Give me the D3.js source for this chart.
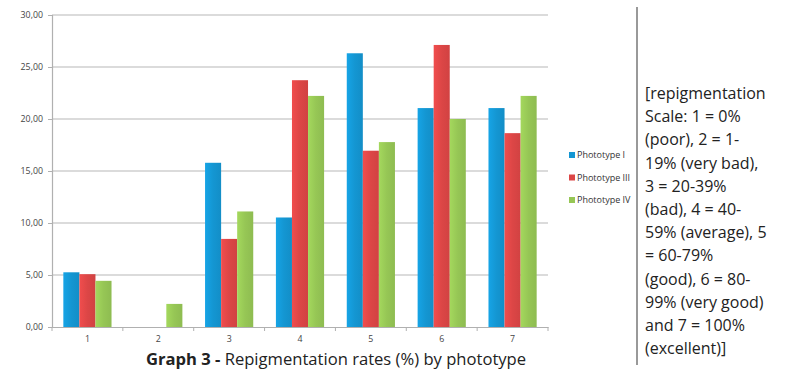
<!DOCTYPE html>
<html><head><meta charset="utf-8">
<script src="https://cdn.jsdelivr.net/npm/d3@7"></script>
<style>body{margin:0;background:#fff;} svg{display:block;}</style>
</head><body>
<svg id="c" width="788" height="370"></svg>
<script>
const categories = ["1","2","3","4","5","6","7"];
const seriesNames = ["Phototype I","Phototype III","Phototype IV"];
const phototypeI   = [5.26, 0, 15.79, 10.53, 26.32, 21.05, 21.05];
const phototypeIII = [5.08, 0, 8.47, 23.73, 16.95, 27.12, 18.64];
const phototypeIV  = [4.44, 2.22, 11.11, 22.22, 17.78, 20.00, 22.22];
const yTicks = [0,5,10,15,20,25,30];
const colors = ["#1496d2","#dc4646","#96c655"];
const noteLines = ["[repigmentation","Scale: 1 = 0%","(poor), 2 = 1-","19% (very bad),","3 = 20-39%","(bad), 4 = 40-","59% (average), 5","= 60-79%","(good), 6 = 80-","99% (very good)","and 7 = 100%","(excellent)]"];

const series = [phototypeI, phototypeIII, phototypeIV];
const svg = d3.select("#c");
const m = {l:52, r:548, t:15, b:327};
const x = d3.scaleBand().domain(categories).range([m.l, m.r]).paddingInner(0.32).paddingOuter(0.16);
const xOuter = d3.scaleBand().domain(categories).range([m.l, m.r]);
const xs = d3.scaleBand().domain(d3.range(3)).range([0, x.bandwidth()]);
const y = d3.scaleLinear().domain([0,30]).range([m.b, m.t]);

const defs = svg.append("defs");
colors.forEach((c,i)=>{
  const g = defs.append("linearGradient").attr("id","g"+i).attr("x1",0).attr("x2",1).attr("y1",0).attr("y2",0);
  g.append("stop").attr("offset","0%").attr("stop-color", d3.color(c).brighter(0.25));
  g.append("stop").attr("offset","50%").attr("stop-color", c);
  g.append("stop").attr("offset","100%").attr("stop-color", d3.color(c).darker(0.15));
});

// gridlines
svg.append("g").selectAll("line").data(yTicks.slice(1)).join("line")
  .attr("x1", m.l).attr("x2", m.r).attr("y1", d=>y(d)).attr("y2", d=>y(d))
  .attr("stroke","#b8b8b8").attr("stroke-width",1.2);

// y axis
const fmt = d => d3.format(".2f")(d).replace(".", ",");
const yAxis = svg.append("g").attr("transform",`translate(${m.l},0)`)
  .call(d3.axisLeft(y).tickValues(yTicks).tickFormat(fmt).tickSize(4).tickPadding(5));
yAxis.select(".domain").attr("stroke","#b0b0b0").attr("stroke-width",1.2);
yAxis.selectAll(".tick line").attr("stroke","#b0b0b0");
yAxis.selectAll("text").attr("font-family","Open Sans, sans-serif").attr("font-size",8.8).attr("fill","#444");

// bars
categories.forEach((cat, ci)=>{
  series.forEach((s, si)=>{
    if (s[ci] <= 0) return;
    svg.append("rect")
      .attr("x", x(cat) + xs(si)).attr("width", xs.bandwidth())
      .attr("y", y(s[ci])).attr("height", y(0) - y(s[ci]))
      .attr("fill", `url(#g${si})`);
  });
});

// x axis
const xAxis = svg.append("g").attr("transform",`translate(0,${m.b})`)
  .call(d3.axisBottom(x).tickSize(0).tickPadding(9));
xAxis.select(".domain").attr("stroke","#b0b0b0").attr("stroke-width",1.2);
xAxis.selectAll("text").attr("font-family","Open Sans, sans-serif").attr("font-size",8.8).attr("fill","#444");
svg.append("g").selectAll("line").data(categories.concat(["end"])).join("line")
  .attr("x1", (d,i)=> m.l + i*xOuter.bandwidth()).attr("x2",(d,i)=> m.l + i*xOuter.bandwidth())
  .attr("y1", m.b).attr("y2", m.b+4).attr("stroke","#b0b0b0");

// legend
const lg = svg.append("g").attr("transform","translate(569,155)");
seriesNames.forEach((n,i)=>{
  lg.append("rect").attr("x",0).attr("y",i*22.5-3).attr("width",6).attr("height",6).attr("fill",colors[i]);
  lg.append("text").attr("x",8).attr("y",i*22.5+3.2).text(n)
    .attr("font-family","Open Sans, sans-serif").attr("font-size",9).attr("fill","#333");
});

// caption
const cap = svg.append("text").attr("x",336).attr("y",365).attr("text-anchor","middle")
  .attr("font-family","Open Sans, sans-serif").attr("font-size",16.6).attr("fill","#222");
cap.append("tspan").attr("font-weight","bold").text("Graph 3 - ");
cap.append("tspan").text("Repigmentation rates (%) by phototype");

// vertical separator
svg.append("line").attr("x1",637).attr("x2",637).attr("y1",7).attr("y2",365).attr("stroke","#555").attr("stroke-width",1.2);

// note text
svg.append("g").selectAll("text").data(noteLines).join("text")
  .attr("x",645).attr("y",(d,i)=>99 + i*23.2).text(d=>d)
  .attr("font-family","Open Sans, sans-serif").attr("font-size",16).attr("fill","#222");
</script>
</body></html>
